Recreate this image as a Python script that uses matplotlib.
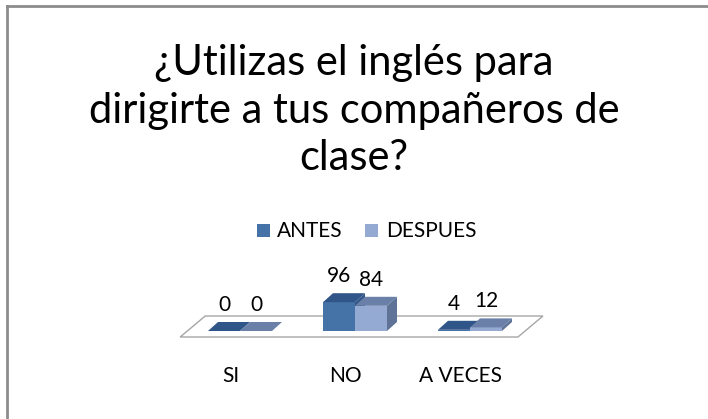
import matplotlib
matplotlib.use("Agg")
import matplotlib.pyplot as plt
from matplotlib.patches import Polygon, Rectangle

categories = ["SI", "NO", "A VECES"]
series_names = ["ANTES", "DESPUES"]
antes = [0, 96, 4]
despues = [0, 84, 12]
title_lines = ["¿Utilizas el inglés para", "dirigirte a tus compañeros de", "clase?"]

plt.rcParams["font.family"] = ["Lato", "DejaVu Sans"]

W, H = 708, 419
fig = plt.figure(figsize=(W / 100, H / 100), dpi=100)
fig.patch.set_facecolor("white")

# frame lines (top and left)
fig.add_artist(plt.Line2D([7 / W, 7 / W], [0, 1 - 6 / H], color="#8C8C8C", lw=2))
fig.add_artist(plt.Line2D([7 / W, 1], [1 - 6 / H, 1 - 6 / H], color="#8C8C8C", lw=2))

# axes mapping: category centre spacing 115 px, value scale 0.3 px/unit
ax = fig.add_axes([0, 0, 1, 1])
ax.set_axis_off()
px_per_cat = 115.0
px_per_val = 0.3
x0_px = 240.0
y0_px = H - 331.0
ax.set_xlim(-x0_px / px_per_cat, (W - x0_px) / px_per_cat)
ax.set_ylim(-y0_px / px_per_val, (H - y0_px) / px_per_val)

ddx = 10 / px_per_cat   # depth offset
ddy = 9 / px_per_val
bw = 32 / px_per_cat

# floor
n = len(categories)
fl_front = -6 / px_per_val
fl_back = 15 / px_per_val
fx0 = -0.52
fx1 = n - 1 + 0.417
fskew = 25 / px_per_cat
floor = Polygon([(fx0, fl_front), (fx1, fl_front), (fx1 + fskew, fl_back), (fx0 + fskew, fl_back)],
                closed=True, facecolor="white", edgecolor="#A6A6A6", lw=1.0, zorder=1)
ax.add_patch(floor)

styles = [
    dict(front="#4572A7", top="#2F5589", side="#34588A"),
    dict(front="#95AAD3", top="#6A80A8", side="#5F7397"),
]

for si, vals in enumerate([antes, despues]):
    st = styles[si]
    for i, v in enumerate(vals):
        xl = i - bw + si * bw
        xr = xl + bw
        ax.bar(xl, v, width=bw, bottom=0, align="edge", color=st["front"], lw=0, zorder=3 + si)
        ax.add_patch(Polygon([(xl, v), (xr, v), (xr + ddx, v + ddy), (xl + ddx, v + ddy)],
                             closed=True, facecolor=st["top"], lw=0, zorder=3 + si))
        ax.add_patch(Polygon([(xr, 0), (xr + ddx, ddy), (xr + ddx, v + ddy), (xr, v)],
                             closed=True, facecolor=st["side"], lw=0, zorder=3 + si))
        ax.text((xl + xr) / 2, v + ddy + 17 / px_per_val, str(v),
                ha="center", va="center", fontsize=15, color="black", zorder=6)

for i, c in enumerate(categories):
    ax.text(i - 0.08, -45 / px_per_val, c, ha="center", va="center", fontsize=15, color="black")

for k, line in enumerate(title_lines):
    fig.text(0.5, 1 - (75 + 47.5 * k) / H, line, ha="center", va="baseline", fontsize=30,
             color="black")

# legend
leg_y = 1 - 230.5 / H
items = [(257, 277, "ANTES", styles[0]["front"]), (365, 386, "DESPUES", styles[1]["front"])]
for sx, tx, lab, col in items:
    fig.patches.append(Rectangle((sx / W, leg_y - 6.5 / H), 13 / W, 13 / H,
                                 transform=fig.transFigure, facecolor=col, lw=0))
    fig.text(tx / W, leg_y, lab, ha="left", va="center", fontsize=15, color="black")

fig.savefig("out.png", dpi=100, facecolor="white")
